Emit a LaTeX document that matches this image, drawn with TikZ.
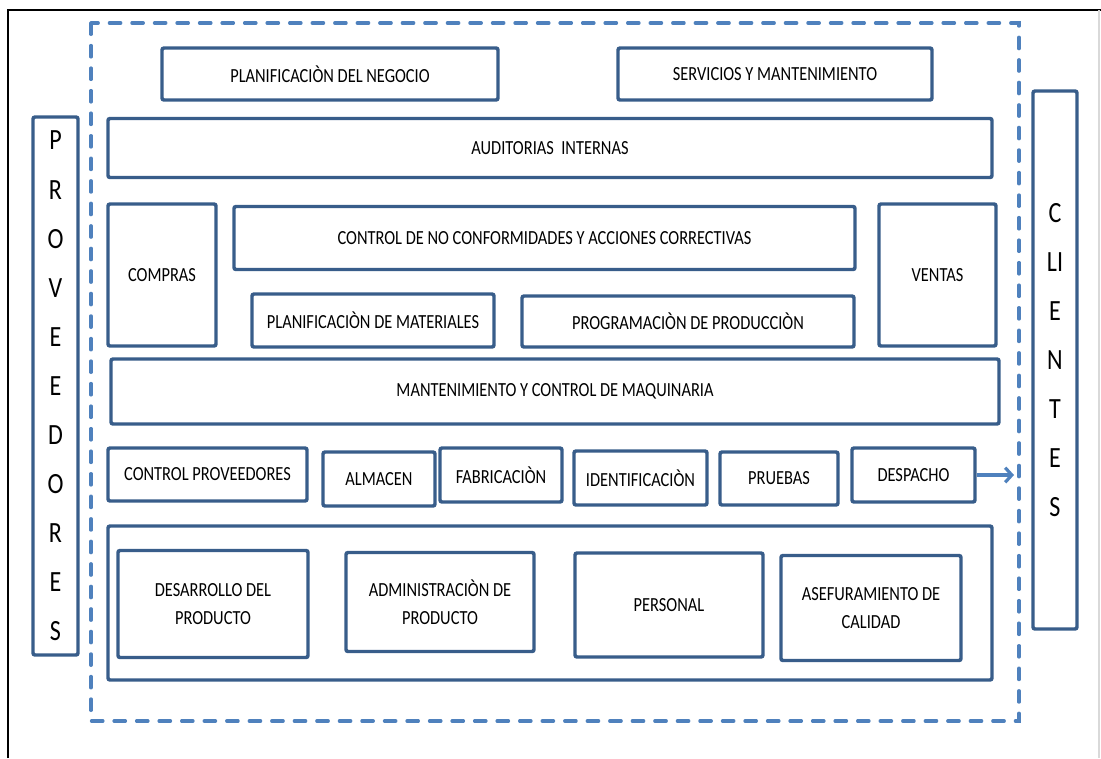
\documentclass[tikz,border=0pt]{standalone}
\usepackage{fontspec}
\newfontfamily\boxfont[FakeStretch=0.82]{Carlito}
\usepackage{xcolor}
\usepackage{tikz}
\usetikzlibrary{arrows.meta}
\definecolor{SGCblue}{HTML}{385D8A}
\definecolor{SGCdash}{HTML}{4F81BD}
\definecolor{SGCframe}{HTML}{D9D9D9}

\tikzset{
  blk/.style={draw=SGCblue, line width=2.6pt, fill=white, rounded corners=1.5pt,
    inner sep=0pt, align=center, font=\boxfont\fontsize{15}{21}\selectfont},
  vert/.style={blk, font=\boxfont\fontsize{22}{36.8}\selectfont},
  wh/.style 2 args={minimum width={#1*0.75pt}, minimum height={#2*0.75pt}},
}

\begin{document}
\begin{tikzpicture}[x=0.75pt,y=-0.75pt]
  \useasboundingbox (0,0) rectangle (1101,758);
  % frame of the page
  \draw[black, line width=0.9pt] (8,758) -- (8,10) -- (1101,10);
  \draw[SGCframe, line width=0.9pt] (1099,10) -- (1099,758);
  % company limit
  \draw[SGCdash, line width=2.5pt, dash pattern=on 8.5pt off 8.4pt, line cap=round]
    (91,23) rectangle (1019,721);

  % management
  \node[blk, wh={336}{52}] (planNegocio) at (330,74) {PLANIFICACIÒN DEL NEGOCIO};
  \node[blk, wh={314}{52}] (servicios) at (775,74) {SERVICIOS Y MANTENIMIENTO};
  \node[blk, wh={884}{59}] (auditorias) at (550,148) {AUDITORIAS\ \ INTERNAS};

  % planning
  \node[blk, wh={108}{142}] (compras) at (162,275) {COMPRAS};
  \node[blk, wh={621}{63}] (noConformidades) at (544.5,238)
    {CONTROL DE NO CONFORMIDADES Y ACCIONES CORRECTIVAS};
  \node[blk, wh={117}{142}] (ventas) at (937.5,275) {VENTAS};
  \node[blk, wh={242}{53}] (planMateriales) at (373,320.5) {PLANIFICACIÒN DE MATERIALES};
  \node[blk, wh={332}{51}] (programacion) at (688,321.5) {PROGRAMACIÒN DE PRODUCCIÒN};
  \node[blk, wh={888}{65}] (mantenimiento) at (555,391.5) {MANTENIMIENTO Y CONTROL DE MAQUINARIA};

  % operations
  \node[blk, wh={199}{53}] (ctrlProveedores) at (207.5,474.5) {CONTROL PROVEEDORES};
  \node[blk, wh={112}{54}] (almacen) at (379,479) {ALMACEN};
  \node[blk, wh={122}{54}] (fabricacion) at (501,475) {FABRICACIÒN};
  \node[blk, wh={133}{54}] (identificacion) at (640.5,478) {IDENTIFICACIÒN};
  \node[blk, wh={118}{53}] (pruebas) at (779,478.5) {PRUEBAS};
  \node[blk, wh={123}{54}] (despacho) at (913.5,475) {DESPACHO};

  % support
  \node[blk, wh={884}{154}] (soporte) at (550,603) {};
  \node[blk, wh={190}{107}] (desarrollo) at (213,604) {DESARROLLO DEL\\PRODUCTO};
  \node[blk, wh={188}{99}] (administracion) at (440,602) {ADMINISTRACIÒN DE\\PRODUCTO};
  \node[blk, wh={188}{104}] (personal) at (669,605) {PERSONAL};
  \node[blk, wh={180}{105}] (aseguramiento) at (871,608) {ASEFURAMIENTO DE\\CALIDAD};

  % outside
  \node[vert, wh={45}{538}] (proveedores) at (55.5,386)
    {P\\R\\O\\V\\E\\E\\D\\O\\R\\E\\S};
  \node[vert, wh={44}{538}] (clientes) at (1055,360)
    {C\\LI\\E\\N\\T\\E\\S};

  \coordinate (entrega) at (1014,475);
  \draw[SGCdash, line width=2.4pt, -{Straight Barb[length=5pt,width=11pt]}]
    (despacho.east) -- (entrega);
\end{tikzpicture}
\end{document}
